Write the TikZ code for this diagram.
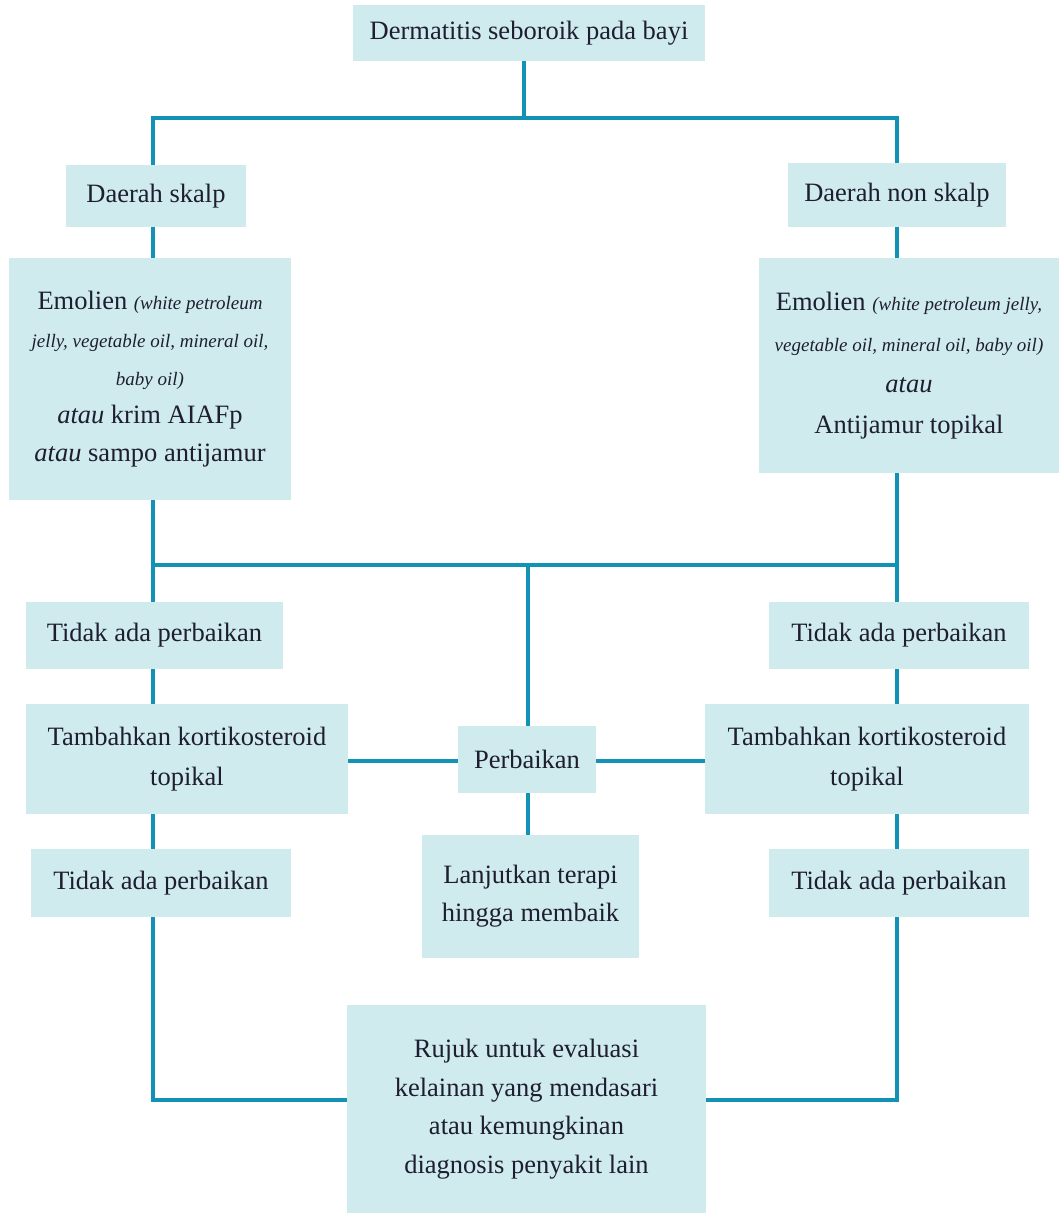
\documentclass[tikz,border=0pt]{standalone}
\usepackage{fontspec}
\setmainfont{Liberation Serif}
\definecolor{boxfill}{RGB}{207,235,238}
\definecolor{linkblue}{RGB}{18,146,180}
\definecolor{ink}{RGB}{30,30,48}
\tikzset{
  box/.style={rectangle, fill=boxfill, draw=none, inner sep=0pt, align=center,
    text=ink, font=\fontsize{26.5}{40}\selectfont},
  conn/.style={draw=linkblue, line width=4pt, line join=miter},
}
\newcommand{\paren}[1]{{\fontsize{19}{38}\selectfont\itshape #1}}
\begin{document}
\begin{tikzpicture}[x=1pt,y=-1pt]
\useasboundingbox (0,0) rectangle (1059,1213);

% boxes
\node[box, minimum width=352, minimum height=56] (top) at (529,33) {Dermatitis seboroik pada bayi};
\node[box, minimum width=180, minimum height=62] (skalp) at (156,196) {Daerah skalp};
\node[box, minimum width=218, minimum height=64] (nonskalp) at (897,195) {Daerah non skalp};
\node[box, minimum width=282, minimum height=242, font=\fontsize{26.5}{38}\selectfont] (emL) at (150,379)
  {Emolien \paren{(white petroleum}\\
   \paren{jelly, vegetable oil, mineral oil,}\\
   \paren{baby oil)}\\
   \textit{atau} krim AIAFp\\
   \textit{atau} sampo antijamur};
\node[box, minimum width=300, minimum height=215, font=\fontsize{26.5}{41}\selectfont] (emR) at (909,365.5)
  {Emolien \paren{(white petroleum jelly,}\\
   \paren{vegetable oil, mineral oil, baby oil)}\\
   \textit{atau}\\
   Antijamur topikal};
\node[box, minimum width=257, minimum height=67] (tL1) at (154.5,635.5) {Tidak ada perbaikan};
\node[box, minimum width=322, minimum height=110] (kL) at (187,759) {Tambahkan kortikosteroid\\topikal};
\node[box, minimum width=260, minimum height=68] (tL2) at (161,883) {Tidak ada perbaikan};
\node[box, minimum width=260, minimum height=67] (tR1) at (899,635.5) {Tidak ada perbaikan};
\node[box, minimum width=324, minimum height=110] (kR) at (867,759) {Tambahkan kortikosteroid\\topikal};
\node[box, minimum width=260, minimum height=68] (tR2) at (899,883) {Tidak ada perbaikan};
\node[box, minimum width=138, minimum height=67] (perb) at (527,759.5) {Perbaikan};
\node[box, minimum width=217, minimum height=123, font=\fontsize{26.5}{38}\selectfont] (lanj) at (530.5,896.5) {Lanjutkan terapi\\hingga membaik};
\node[box, minimum width=359, minimum height=208, font=\fontsize{26.5}{38.5}\selectfont] (rujuk) at (526.5,1109)
  {Rujuk untuk evaluasi\\kelainan yang mendasari\\atau kemungkinan\\diagnosis penyakit lain};

% branch columns and junctions
\coordinate (xL) at (153,0);
\coordinate (xR) at (897,0);
\coordinate (j1) at (524,118);
\coordinate (j2) at (528,565);
\coordinate (yB) at (0,1100);

% connectors
\draw[conn] (top.south -| j1) -- (j1);
\draw[conn] (skalp.north -| xL) |- (j1) -| (nonskalp.north -| xR);
\draw[conn] (skalp.south -| xL) -- (emL.north -| xL);
\draw[conn] (nonskalp.south -| xR) -- (emR.north -| xR);
\draw[conn] (emL.south -| xL) -- (tL1.north -| xL);
\draw[conn] (emR.south -| xR) -- (tR1.north -| xR);
\draw[conn] (xL |- j2) -- (xR |- j2);
\draw[conn] (j2) -- (perb.north -| j2);
\draw[conn] (tL1.south -| xL) -- (kL.north -| xL);
\draw[conn] (kL.south -| xL) -- (tL2.north -| xL);
\draw[conn] (tR1.south -| xR) -- (kR.north -| xR);
\draw[conn] (kR.south -| xR) -- (tR2.north -| xR);
\draw[conn] (kL.east |- 0,761) -- (perb.west |- 0,761);
\draw[conn] (perb.east |- 0,761) -- (kR.west |- 0,761);
\draw[conn] (perb.south -| j2) -- (lanj.north -| j2);
\draw[conn] (tL2.south -| xL) |- (rujuk.west |- yB);
\draw[conn] (tR2.south -| xR) |- (rujuk.east |- yB);
\end{tikzpicture}
\end{document}
